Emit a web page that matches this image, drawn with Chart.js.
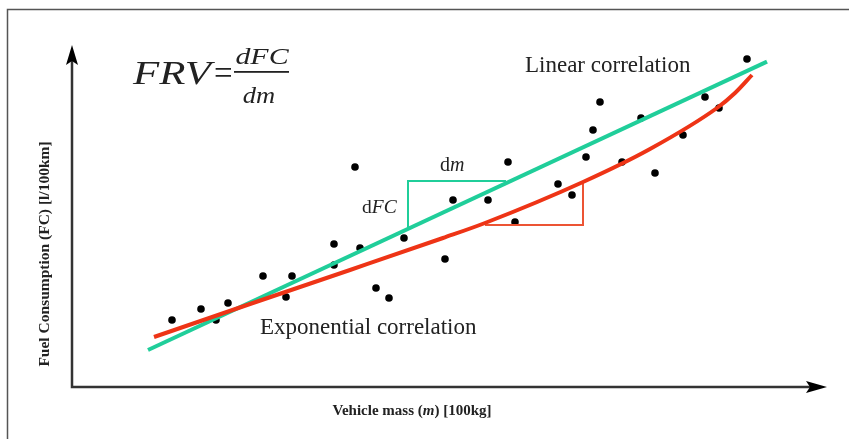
<!DOCTYPE html>
<html lang="en">
<head>
    <meta charset="UTF-8">
    <title>Fuel consumption vs vehicle mass</title>
    <script src="https://cdn.jsdelivr.net/npm/chart.js"></script>
    <style>
        body { margin: 0; background: #fff; }
        #wrap { width: 849px; height: 439px; }
    </style>
</head>
<body>
    <div id="wrap"><canvas id="frvChart" width="849" height="439"></canvas></div>

    <script>
        // Measured vehicles: mass [100kg] and fuel consumption [l/100km]
        const obsMass = [5.0, 6.45, 7.2, 7.8, 9.55, 11.0, 10.7, 13.1, 13.1, 14.4, 14.15, 15.2, 15.85, 16.6, 18.65, 19.05,
            20.8, 21.8, 22.15, 24.3, 25.0, 25.7, 26.05, 26.4, 27.5, 28.45, 29.15, 30.55, 31.65, 32.35, 33.75];
        const obsFC = [3.35, 3.9, 3.35, 4.2, 5.55, 5.55, 4.5, 7.15, 6.1, 6.95, 11.0, 4.95, 4.45, 7.45, 6.4, 9.35,
            9.35, 11.25, 8.25, 10.15, 9.6, 11.5, 12.85, 14.25, 11.25, 13.45, 10.7, 12.6, 14.5, 13.95, 16.4];

        // Linear fit (two end points)
        const linMass = [3.8, 34.75];
        const linFC = [1.85, 16.27];

        // Exponential fit, sampled along the curve
        const expMass = [4.1, 8.9, 13.9, 18.55, 20.65, 25.55, 28.9, 32.25, 33.15, 34.0];
        const expFC = [2.5, 4.15, 5.85, 7.45, 8.2, 10.25, 11.9, 13.95, 14.7, 15.6];

        // Slope triangles (dm / dFC)
        const linTriMass = [21.7, 16.8, 16.8];
        const linTriFC = [10.3, 10.3, 7.92];
        const expTriMass = [20.65, 25.55, 25.55];
        const expTriFC = [8.1, 8.1, 10.25];

        const TEAL = 'rgb(32, 206, 154)';
        const RED = 'rgb(238, 52, 22)';
        const INK = '#222';
        const SERIF = '"Liberation Serif"';

        const toXY = (xs, ys) => xs.map((x, i) => ({ x: x, y: ys[i] }));

        // draws a run of text pieces with their own fonts, left to right
        function drawRuns(ctx, runs, x, y, align) {
            let total = 0;
            runs.forEach(r => { ctx.font = r.font; total += ctx.measureText(r.text).width; });
            let cx = align === 'center' ? x - total / 2 : x;
            ctx.textAlign = 'left';
            runs.forEach(r => {
                ctx.font = r.font;
                ctx.fillText(r.text, cx, y);
                cx += ctx.measureText(r.text).width;
            });
        }

        // text widened horizontally, like the math font in the formula
        function drawWide(ctx, text, font, x, y, sx, align) {
            ctx.save();
            ctx.font = font;
            ctx.textAlign = align;
            ctx.translate(x, y);
            ctx.scale(sx, 1);
            ctx.fillText(text, 0, 0);
            ctx.restore();
        }

        const decorations = {
            id: 'decorations',
            afterDraw(chart) {
                const ctx = chart.ctx;
                const { left, bottom, right, top } = chart.chartArea;
                ctx.save();

                // frame
                ctx.strokeStyle = '#555';
                ctx.lineWidth = 1.5;
                ctx.beginPath();
                ctx.moveTo(7.5, 439);
                ctx.lineTo(7.5, 9.5);
                ctx.lineTo(849, 9.5);
                ctx.stroke();

                // axes with arrow heads
                ctx.strokeStyle = '#333';
                ctx.fillStyle = '#000';
                ctx.lineWidth = 2.5;
                ctx.beginPath();
                ctx.moveTo(left, top + 14);
                ctx.lineTo(left, bottom);
                ctx.lineTo(right - 16, bottom);
                ctx.stroke();
                ctx.beginPath();
                ctx.moveTo(right, bottom);
                ctx.lineTo(right - 21, bottom - 6);
                ctx.lineTo(right - 17, bottom);
                ctx.lineTo(right - 21, bottom + 6);
                ctx.closePath();
                ctx.fill();
                ctx.beginPath();
                ctx.moveTo(left, top);
                ctx.lineTo(left - 6, top + 20);
                ctx.lineTo(left, top + 16);
                ctx.lineTo(left + 6, top + 20);
                ctx.closePath();
                ctx.fill();

                ctx.fillStyle = INK;
                ctx.textBaseline = 'alphabetic';

                // axis titles
                drawRuns(ctx, [
                    { text: 'Vehicle mass (', font: 'bold 15px ' + SERIF },
                    { text: 'm', font: 'italic bold 15px ' + SERIF },
                    { text: ') [100kg]', font: 'bold 15px ' + SERIF }
                ], 412, 415, 'center');

                ctx.save();
                ctx.translate(49, 254);
                ctx.rotate(-Math.PI / 2);
                ctx.textAlign = 'center';
                ctx.font = 'bold 15.5px ' + SERIF;
                ctx.fillText('Fuel Consumption (FC) [l/100km]', 0, 0);
                ctx.restore();

                // FRV formula
                drawWide(ctx, 'FRV', 'italic 33px ' + SERIF, 133, 84, 1.3, 'left');
                drawWide(ctx, '=', '33px ' + SERIF, 214, 84, 1.0, 'left');
                drawWide(ctx, 'dFC', 'italic 23px ' + SERIF, 262, 64, 1.3, 'center');
                drawWide(ctx, 'dm', 'italic 23px ' + SERIF, 259, 103, 1.15, 'center');
                ctx.fillRect(234, 71, 55, 1.8);

                // fit labels
                ctx.font = '23px ' + SERIF;
                ctx.textAlign = 'left';
                ctx.fillText('Linear correlation', 525, 72);
                ctx.fillText('Exponential correlation', 260, 334);

                // triangle labels
                drawRuns(ctx, [
                    { text: 'd', font: '20px ' + SERIF },
                    { text: 'm', font: 'italic 20px ' + SERIF }
                ], 440, 171, 'left');
                drawRuns(ctx, [
                    { text: 'd', font: '19.5px ' + SERIF },
                    { text: 'FC', font: 'italic 19.5px ' + SERIF }
                ], 362, 213, 'left');

                ctx.restore();
            }
        };

        const ctx = document.getElementById('frvChart').getContext('2d');
        const frvChart = new Chart(ctx, {
            type: 'scatter',
            data: {
                datasets: [
                    {
                        label: 'Exponential correlation',
                        data: toXY(expMass, expFC),
                        showLine: true,
                        borderColor: RED,
                        borderWidth: 4,
                        cubicInterpolationMode: 'monotone',
                        pointRadius: 0,
                        order: 0
                    },
                    {
                        label: 'Linear correlation',
                        data: toXY(linMass, linFC),
                        showLine: true,
                        borderColor: TEAL,
                        borderWidth: 4,
                        pointRadius: 0,
                        order: 1
                    },
                    {
                        label: 'dFC/dm linear',
                        data: toXY(linTriMass, linTriFC),
                        showLine: true,
                        borderColor: TEAL,
                        borderWidth: 2,
                        pointRadius: 0,
                        order: 2
                    },
                    {
                        label: 'dFC/dm exponential',
                        data: toXY(expTriMass, expTriFC),
                        showLine: true,
                        borderColor: 'rgb(236, 84, 52)',
                        borderWidth: 2,
                        pointRadius: 0,
                        order: 2
                    },
                    {
                        label: 'Vehicles',
                        data: toXY(obsMass, obsFC),
                        backgroundColor: '#000',
                        borderWidth: 0,
                        pointRadius: 3.8,
                        order: 3
                    }
                ]
            },
            options: {
                responsive: false,
                animation: false,
                layout: { padding: { left: 72, right: 22, top: 45, bottom: 52 } },
                plugins: {
                    legend: { display: false },
                    tooltip: { enabled: false }
                },
                scales: {
                    x: { type: 'linear', display: false, min: 0, max: 37.75 },
                    y: { type: 'linear', display: false, min: 0, max: 17.1 }
                }
            },
            plugins: [decorations]
        });
    </script>
</body>
</html>
